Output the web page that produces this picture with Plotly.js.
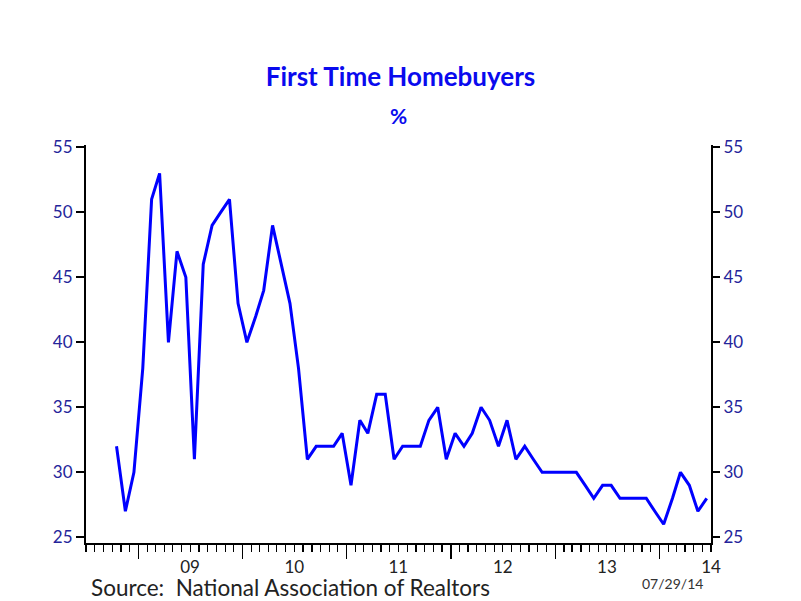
<!DOCTYPE html>
<html>
<head>
<meta charset="utf-8">
<script src="https://cdn.plot.ly/plotly-3.0.1.min.js"></script>
<style>html,body{margin:0;padding:0;background:#fff;}#chart{width:801px;height:601px;}</style>
</head>
<body>
<div id="chart"></div>
<script>
// Monthly survey months (plotted mid-month)
const months = [
  '2008-10','2008-11','2008-12',
  '2009-01','2009-02','2009-03','2009-04','2009-05','2009-06','2009-07','2009-08','2009-09','2009-10','2009-11','2009-12',
  '2010-01','2010-02','2010-03','2010-04','2010-05','2010-06','2010-07','2010-08','2010-09','2010-10','2010-11','2010-12',
  '2011-01','2011-02','2011-03','2011-04','2011-05','2011-06','2011-07','2011-08','2011-09','2011-10','2011-11','2011-12',
  '2012-01','2012-02','2012-03','2012-04','2012-05','2012-06','2012-07','2012-08','2012-09','2012-10','2012-11','2012-12',
  '2013-01','2013-02','2013-03','2013-04','2013-05','2013-06','2013-07','2013-08','2013-09','2013-10','2013-11','2013-12',
  '2014-01','2014-02','2014-03','2014-04','2014-05','2014-06'
];
// First-time homebuyers, % of existing home sales
const firstTimePct = [
  32,27,30,
  38,51,53,40,47,45,31,46,49,50,51,43,
  40,42,44,49,46,43,38,31,32,32,32,33,
  29,34,33,36,36,31,32,32,32,34,35,31,
  33,32,33,35,34,32,34,31,32,31,30,30,
  30,30,30,29,28,29,29,28,28,28,28,27,
  26,28,30,29,27,28
];
// Year labels, centred on each year (the last sits at the axis end)
const yearLabelDates = ['2009-07-01','2010-07-01','2011-07-01','2012-07-01','2013-07-01','2014-07-01'];
const yearLabels = ['09','10','11','12','13','14'];
const yTicks = [25,30,35,40,45,50,55];

const xDates = months.map(m => m + '-16');
const xRange = ['2008-07-01','2014-07-01'];
const yRange = [24.56, 55.18];

const FONT = 'Lato, "Open Sans", "DejaVu Sans", sans-serif';
const NAVY = '#24249a';

const traces = [{
  x: xDates, y: firstTimePct, type: 'scatter', mode: 'lines',
  line: {color: '#0000ff', width: 3}, hoverinfo: 'x+y', showlegend: false
}];

const layout = {
  width: 801, height: 601,
  margin: {l: 86, r: 90, t: 145, b: 58},
  paper_bgcolor: '#ffffff', plot_bgcolor: '#ffffff',
  showlegend: false,
  title: {
    text: '<b>First Time Homebuyers</b>',
    font: {family: FONT, size: 26, color: '#0a0aee'},
    x: 0.5, xanchor: 'center', y: 0.872, yanchor: 'middle'
  },
  xaxis: {
    type: 'date', range: xRange,
    showline: true, linecolor: '#000', linewidth: 2,
    showgrid: false, zeroline: false,
    tickmode: 'linear', tick0: '2009-01-01', dtick: 'M12',
    ticks: 'outside', ticklen: 14, tickwidth: 1.5, tickcolor: '#000',
    showticklabels: false,
    minor: {ticks: 'outside', ticklen: 7, tickwidth: 1.2, tickcolor: '#000', dtick: 'M1', tick0: '2008-07-01', showgrid: false},
    fixedrange: true
  },
  xaxis2: {
    type: 'date', range: xRange, overlaying: 'x', anchor: 'y', side: 'bottom',
    showline: false, showgrid: false, zeroline: false, ticks: '',
    tickmode: 'array', tickvals: yearLabelDates, ticktext: yearLabels,
    ticklabelstandoff: 12,
    tickfont: {family: FONT, size: 17, color: '#222'},
    fixedrange: true
  },
  yaxis: {
    range: yRange, showline: true, linecolor: '#000', linewidth: 2,
    showgrid: false, zeroline: false,
    tickmode: 'array', tickvals: yTicks,
    ticks: 'outside', ticklen: 8, tickwidth: 2, tickcolor: '#000',
    tickfont: {family: FONT, size: 17, color: NAVY},
    fixedrange: true
  },
  yaxis2: {
    range: yRange, overlaying: 'y', side: 'right', anchor: 'x',
    showline: true, linecolor: '#000', linewidth: 2,
    showgrid: false, zeroline: false,
    tickmode: 'array', tickvals: yTicks,
    ticks: 'outside', ticklen: 7, tickwidth: 2, tickcolor: '#000',
    tickfont: {family: FONT, size: 17, color: NAVY},
    fixedrange: true
  },
  annotations: [
    {text: '<b>%</b>', xref: 'paper', yref: 'paper', x: 0.5, y: 1.0, yshift: 30,
     xanchor: 'center', yanchor: 'middle', showarrow: false,
     font: {family: FONT, size: 21, color: '#0a0aee'}},
    {text: 'Source:  National Association of Realtors', xref: 'paper', yref: 'paper',
     x: 0, xshift: 3, y: 0, yshift: -44, xanchor: 'left', yanchor: 'middle', showarrow: false,
     font: {family: FONT, size: 22.5, color: '#222'}},
    {text: '07/29/14', xref: 'paper', yref: 'paper',
     x: 1, xshift: -6, y: 0, yshift: -40, xanchor: 'right', yanchor: 'middle', showarrow: false,
     font: {family: FONT, size: 14, color: '#333'}}
  ]
};

// Invisible companion trace so the overlay axes are drawn
traces.push({x: xDates, y: firstTimePct, xaxis: 'x2', yaxis: 'y2', type: 'scatter', mode: 'lines',
  line: {width: 0, color: 'rgba(0,0,0,0)'}, hoverinfo: 'skip', showlegend: false});

Plotly.newPlot('chart', traces, layout, {displayModeBar: false, staticPlot: true});
</script>
</body>
</html>
